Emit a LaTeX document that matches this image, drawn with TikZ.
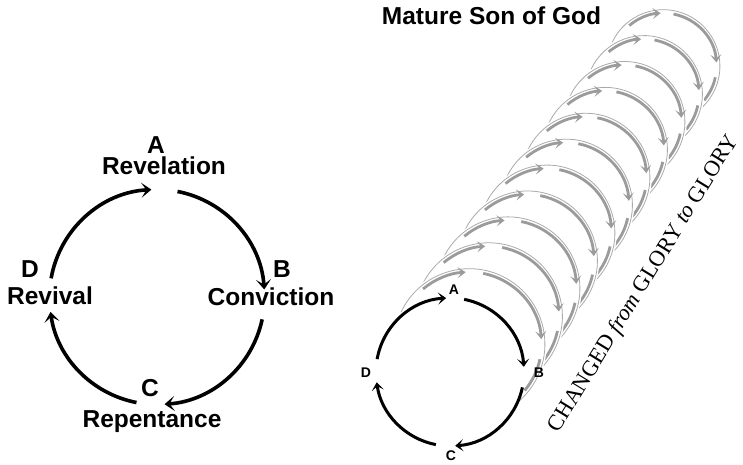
\documentclass[tikz,border=0pt]{standalone}
\usepackage{fontspec}
\setmainfont{Liberation Serif}
\setsansfont{Liberation Sans}
\usetikzlibrary{arrows.meta}
\definecolor{ringgray}{RGB}{155,155,155}
\definecolor{ringline}{RGB}{170,170,170}
\tikzset{
  lbl/.style={font=\sffamily\bfseries\fontsize{24.5}{26}\selectfont, inner sep=0pt, anchor=base},
  slbl/.style={font=\sffamily\bfseries\fontsize{14}{15}\selectfont, inner sep=0pt, anchor=base},
  bigarc/.style={line width=3.6pt, -{Stealth[length=10pt,width=15pt,inset=5pt]}},
  smallarc/.style={line width=3pt, -{Stealth[length=8pt,width=12pt,inset=4pt]}},
  ringarc/.style={line width=2.8pt, draw=ringgray, -{Stealth[length=8pt,width=11pt,inset=4pt]}},
  ringplain/.style={line width=2.8pt, draw=ringgray},
  ringedge/.style={line width=0.8pt, draw=ringline},
  ringmask/.style={line width=7pt, draw=white},
}
\newcommand\drawcycle[3]{%
  \draw[#3] ([shift={(170:#2)}]#1) arc[start angle=170,end angle=93,radius=#2];
  \draw[#3] ([shift={(79:#2)}]#1) arc[start angle=79,end angle=4,radius=#2];
  \draw[#3] ([shift={(-12:#2)}]#1) arc[start angle=-12,end angle=-86,radius=#2];
  \draw[#3] ([shift={(-101:#2)}]#1) arc[start angle=-101,end angle=-172,radius=#2];
}
\begin{document}
\begin{tikzpicture}[x=1pt,y=1pt]
\useasboundingbox (0,0) rectangle (743,465);
% ---------- left cycle ----------
\coordinate (bigc) at (157,168);
\drawcycle{bigc}{107.5pt}{bigarc}
\node[lbl] (A) at (156,311) {A};
\node[lbl] (rev) at (164,290) {Revelation};
\node[lbl] (B) at (282,187) {B};
\node[lbl] (con) at (271,159) {Conviction};
\node[lbl] (C) at (150,68) {C};
\node[lbl] (rep) at (152,37) {Repentance};
\node[lbl] (D) at (30,187) {D};
\node[lbl] (rvl) at (50,160) {Revival};
% ---------- gray rings ----------
\foreach \k in {11,10,...,1}{
  \pgfmathsetmacro\cx{450+19.4*\k}
  \pgfmathsetmacro\cy{93+27.8*\k}
  \pgfmathsetmacro\r{74-1.9*\k}
  \pgfmathsetmacro\ro{\r+3.4}
  \pgfmathsetmacro\rm{\r+1.7}
  \coordinate (R\k) at (\cx,\cy);
  \draw[ringmask] ([shift={(152:\rm pt)}]R\k) arc[start angle=152,end angle=-44,radius=\rm pt];
  \draw[ringedge] ([shift={(155:\ro pt)}]R\k) arc[start angle=155,end angle=-48,radius=\ro pt];
  \draw[ringarc] ([shift={(130:\r pt)}]R\k) arc[start angle=130,end angle=93,radius=\r pt];
  \draw[ringarc] ([shift={(79:\r pt)}]R\k) arc[start angle=79,end angle=4,radius=\r pt];
  \draw[ringplain] ([shift={(-12:\r pt)}]R\k) arc[start angle=-12,end angle=-40,radius=\r pt];
}
% ---------- small cycle ----------
\coordinate (smc) at (450,93);
\drawcycle{smc}{74pt}{smallarc}
\node[slbl] (a) at (454,170) {A};
\node[slbl] (b) at (539,87) {B};
\node[slbl] (c) at (451,4) {C};
\node[slbl] (d) at (366,87) {D};
% ---------- texts ----------
\node[lbl] (title) at (491.5,440) {Mature Son of God};
\node[rotate=58.5, inner sep=0pt, font=\fontsize{22.5}{24}\selectfont] (glory) at (644,181)
  {CHANGED \textit{from} GLORY \textit{to} GLORY};
\end{tikzpicture}
\end{document}
